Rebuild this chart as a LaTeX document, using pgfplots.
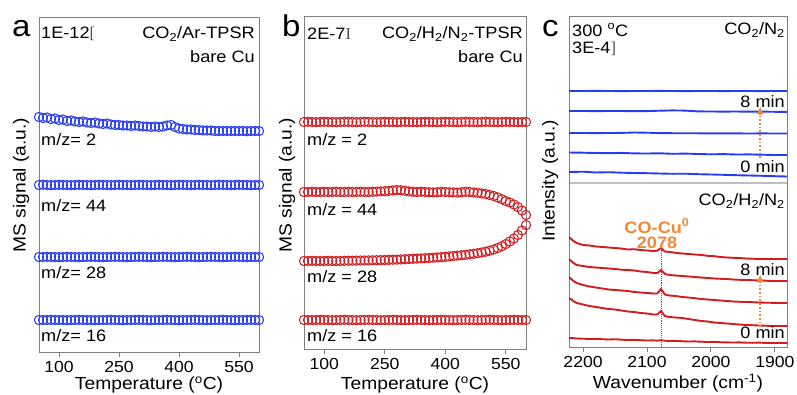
\documentclass[border=0pt]{standalone}
\usepackage{fontspec}
\setmainfont{Liberation Sans}[FakeStretch=1.1]
\newfontfamily\seriff{Liberation Serif}
\usepackage{pgfplots}
\pgfplotsset{compat=1.18}
\usepackage{pgfplotstable}
\usetikzlibrary{arrows.meta}
\definecolor{mblue}{RGB}{40,60,240}
\definecolor{mred}{RGB}{210,28,32}
\definecolor{morange}{RGB}{240,136,56}
\definecolor{axgray}{RGB}{128,128,128}

\pgfplotstableread{
T a2 a44 a28 a16
50 235 167 95 32
60 234 167.3 95 32
70 234.5 167 95.2 32
80 233 166.8 95 32.2
90 233.5 167 95 32
100 232 167.2 94.8 32
110 232.5 167 95 32
120 231 167 95.2 31.8
130 231.5 166.8 95 32
140 230.5 167 95 32
150 230 167.2 94.8 32.2
160 230.5 167 95 32
170 229.5 167 95 32
180 229 166.8 95.2 32
190 229.5 167 95 31.8
200 228.5 167.2 95 32
210 228 167 94.8 32
220 228.5 167 95 32
230 227.5 166.8 95 32.2
240 227 167 95.2 32
250 227 167.2 95 32
260 226.5 167 95 31.8
270 226.5 167 94.8 32
280 226 166.8 95 32
290 226.5 167 95 32
300 226 167.2 95.2 32.2
310 225.5 167 95 32
320 225.5 167 95 32
330 225 166.8 94.8 31.8
340 225.5 167 95 32
350 225 167.2 95 32
360 225.5 167 95.2 32
370 226.5 167 95 32.2
380 227 166.8 95 32
390 225 167 94.8 32
400 223.5 167.2 95 31.8
410 223 167 95 32
420 222.5 167 95.2 32
430 222.5 166.8 95 32
440 222 167 95 32.2
450 222 167.2 94.8 32
460 221.5 167 95 32
470 221.5 167 95 31.8
480 221.5 166.8 95.2 32
490 221 167 95 32
500 221 167.2 95 32
510 221 167 94.8 32.2
520 221 167 95 32
530 221 166.8 95 32
540 221 167 95.2 31.8
550 221 167.2 95 32
560 221 167 95 32
570 220.8 167 94.8 32
580 221 166.8 95 32.2
590 221 167 95 32
600 221 167 95 32
}\tabA

\pgfplotstableread{
T b2 b44 b28 b16
50 227 157 88 29
60 227.2 157 88 29
70 227 157.3 88.2 29
80 226.8 157 88 29
90 227 157 88 29.2
100 227.2 157.2 88 29
110 227 157 88.2 29
120 227 157 88 28.8
130 226.8 157.3 88 29
140 227 157 88 29
150 227.2 157 88.2 29.2
160 227 157.2 88.3 29
170 227 157 88.3 29
180 226.8 157 88.4 28.8
190 227 157.3 88.5 29
200 227.2 157 88.5 29
210 227 157 88.6 29.2
220 227 157.2 88.7 29
230 226.8 157.4 88.8 29
240 227 157.6 88.9 28.8
250 227.2 157.8 89 29
260 227 158.2 89.1 29
270 227 158.6 89.3 29.2
280 226.8 159 89.4 29
290 227 158.8 89.6 29
300 227.2 158.2 89.8 28.8
310 227 157.6 90 29
320 227 157.2 90.2 29
330 226.8 157 90.4 29.2
340 227 157.3 90.6 29
350 227.2 157 90.8 29
360 227 156.8 91 28.8
370 227 156.6 91.3 29
380 226.8 156.8 91.6 29
390 227 157.2 91.9 29.2
400 227.2 157 92.2 29
410 227 156.8 92.6 29
420 227 156.6 93 28.8
430 226.8 156.4 93.4 29
440 227 156.8 93.8 29
450 227.2 157.2 94.2 29.2
460 227 157 94.7 29
470 227 156.6 95.2 29
480 226.8 156.2 95.8 28.8
490 227 155.6 96.5 29
500 227.2 155 97.3 29
510 227 154 98.3 29.2
520 227 153 99.5 29
530 226.8 151.5 101 29
540 227 149.8 102.8 28.8
550 227.2 148 105 29
560 227 146.5 107.5 29
570 227 144.5 110.5 29.2
580 226.8 142 114 29
590 227 138.5 118.5 29
600 227 134 124 29
}\tabB

\pgfplotstableread{
W t1 t2 t3 t4 t5
2222 92 72 50 30.5 11
2200 92 72 50 30.3 11.3
2180 92.1 71.9 49.9 30 10.5
2160 92 72 50 29.8 10.8
2140 91.9 72 50.1 30.1 10.3
2120 92 71.8 50.5 29.6 10
2100 92 71.9 50.3 29.5 9.8
2080 92.1 72.3 49.9 29.7 9.5
2060 92 72.6 49.8 29.2 9.2
2040 91.9 72.4 49.8 29.4 9.3
2020 92 71.6 49.7 29 8.8
2000 92 71.5 49.6 28.7 8.5
1980 91.9 71.4 49.7 28.9 8.2
1960 92 71.5 49.6 28.5 7.8
1940 92 71.3 49.5 28.6 7.5
1920 91.9 71.4 49.6 28.3 7.2
1900 92 71.2 49.5 28 6.8
1881 92 71.2 49.5 28 6.5
}\tabCt

\pgfplotstableread{
W r1 r2 r3 r4 r5
2222 110 88 70 49 9
2215 106 84 66 46 8.8
2210 104 82 64 44 8.5
2200 102 81 62 42.5 8.3
2190 101.5 80 60.5 41 8
2180 100.5 79.5 59.5 40 8.2
2170 100 79 58.5 39 7.8
2160 99.5 78.5 57.5 38 7.5
2150 99 78 57 37.5 7.8
2140 98.5 77.3 56.5 36.5 7.3
2130 97.5 77 56 35.5 7
2120 97.8 76.5 55 35 7.2
2110 97 75.5 54.5 34 6.8
2100 96.5 75 54 33.5 6.5
2090 96 74 53.5 32.5 6.6
2084 96.3 73.8 53.5 32.5 6.4
2078 99 77 58 36 6.8
2072 95.5 73 52.5 31 6.3
2065 95 72 51.5 30 6
2055 94.2 71.5 51 29.5 6.2
2045 93.5 71 50 29 5.8
2035 93 70.5 49.5 28 5.5
2025 92.5 70 48.8 27 5.6
2015 92 69.5 48 26 5.3
2005 91.2 69 47.5 25.5 5
1995 90.8 68.5 47 24.5 5.2
1985 90 68.2 46.5 24 4.8
1975 89.5 68 46 23.5 4.6
1965 89.2 67.5 45.5 23 4.5
1955 89 67.2 45.2 22.5 4.6
1945 88.5 67 45 22 4.3
1935 88.3 66.8 44.8 21.8 4.2
1925 88 66.5 44.5 21.5 4.4
1915 88.2 66.3 44.3 21.3 4.1
1905 87.8 66 44.2 21 4
1895 88 66 44 21 4
1881 88 66 44 21 4
}\tabCb

\pgfplotsset{panel/.style={
  scale only axis,
  axis line style={draw=axgray, line width=0.9pt},
  ytick=\empty,
  xtick pos=bottom,
  tick align=outside,
  major tick length=5pt,
  tick style={axgray, line width=0.9pt},
  tick label style={font=\fontsize{16}{18}\selectfont, black},
  xticklabel style={yshift=-1pt},
  /pgf/number format/assume math mode=true,
  /pgf/number format/1000 sep={},
  clip=true}}

\newcommand{\fs}{\fontsize{16.5}{19}\selectfont}
\newcommand{\fl}{\fontsize{17.5}{20}\selectfont}

\begin{document}
\begin{tikzpicture}
\useasboundingbox (0pt,0pt) rectangle (797pt,-394pt);

% ---------- panel a ----------
\begin{axis}[panel, at={(39pt,-17pt)}, anchor=north west, width=220pt, height=335pt,
  xmin=50, xmax=600, ymin=0, ymax=335, xtick={100,250,400,550}]
\addplot[only marks, mark=o, mark size=4.6pt, mblue, line width=1.05pt] table[x=T,y=a2]{\tabA};
\addplot[only marks, mark=o, mark size=4.6pt, mblue, line width=1.05pt] table[x=T,y=a44]{\tabA};
\addplot[only marks, mark=o, mark size=4.6pt, mblue, line width=1.05pt] table[x=T,y=a28]{\tabA};
\addplot[only marks, mark=o, mark size=4.6pt, mblue, line width=1.05pt] table[x=T,y=a16]{\tabA};
\end{axis}

% ---------- panel b ----------
\begin{axis}[panel, at={(304pt,-16pt)}, anchor=north west, width=222pt, height=333pt,
  xmin=50, xmax=600, ymin=0, ymax=333, xtick={100,250,400,550}]
\addplot[only marks, mark=o, mark size=4.6pt, mred, line width=1.05pt] table[x=T,y=b2]{\tabB};
\addplot[only marks, mark=o, mark size=4.6pt, mred, line width=1.05pt] table[x=T,y=b44]{\tabB};
\addplot[only marks, mark=o, mark size=4.6pt, mred, line width=1.05pt] table[x=T,y=b28]{\tabB};
\addplot[only marks, mark=o, mark size=4.6pt, mred, line width=1.05pt] table[x=T,y=b16]{\tabB};
\end{axis}

% ---------- panel c top ----------
\begin{axis}[panel, at={(569pt,-16pt)}, anchor=north west, width=218pt, height=167pt,
  x dir=reverse, xmin=1881, xmax=2222, ymin=0, ymax=167, xtick=\empty]
\addplot[mblue, line width=1.9pt] table[x=W,y=t1]{\tabCt};
\addplot[mblue, line width=1.9pt] table[x=W,y=t2]{\tabCt};
\addplot[mblue, line width=1.9pt] table[x=W,y=t3]{\tabCt};
\addplot[mblue, line width=1.9pt] table[x=W,y=t4]{\tabCt};
\addplot[mblue, line width=1.9pt] table[x=W,y=t5]{\tabCt};
\draw[morange, line width=1.7pt, dotted, -{Triangle[length=7pt,width=6pt]}] (axis cs:1923,25) -- (axis cs:1923,76);
\end{axis}

% ---------- panel c bottom ----------
\begin{axis}[panel, at={(569pt,-183pt)}, anchor=north west, width=218pt, height=164pt,
  x dir=reverse, xmin=1881, xmax=2222, ymin=0, ymax=164, xtick={2200,2100,2000,1900}]
\draw[black!65, line width=0.9pt, densely dotted] (axis cs:2078,0) -- (axis cs:2078,97);
\addplot[mred, line width=1.9pt] table[x=W,y=r1]{\tabCb};
\addplot[mred, line width=1.9pt] table[x=W,y=r2]{\tabCb};
\addplot[mred, line width=1.9pt] table[x=W,y=r3]{\tabCb};
\addplot[mred, line width=1.9pt] table[x=W,y=r4]{\tabCb};
\addplot[mred, line width=1.9pt] table[x=W,y=r5]{\tabCb};
\draw[morange, line width=1.7pt, dotted, -{Triangle[length=7pt,width=6pt]}] (axis cs:1923,20) -- (axis cs:1923,72);
\end{axis}
\draw[black!25, line width=1.6pt] (569.5pt,-183pt) -- (786.5pt,-183pt);

% ---------- texts ----------
\begin{scope}[x=1pt, y=1pt, every node/.style={inner sep=0pt, text=black}]
% panel a
\node[anchor=base west, font=\fontsize{30}{32}\selectfont] at (12,-36) {a};
\node[anchor=west, font=\fs] at (41,-34) {1E-12{\seriff\color{black!70}[}};
\node[anchor=east, font=\fs] at (255,-34) {CO\textsubscript{2}/Ar-TPSR};
\node[anchor=east, font=\fs] at (255,-57) {bare Cu};
\node[anchor=west, font=\fs] at (41,-140) {m/z= 2};
\node[anchor=west, font=\fs] at (41,-206) {m/z= 44};
\node[anchor=west, font=\fs] at (41,-273) {m/z= 28};
\node[anchor=west, font=\fs] at (41,-336) {m/z= 16};
\node[rotate=90, font=\fl] at (21,-185) {MS signal (a.u.)};
\node[font=\fl] at (149,-385) {Temperature (\textsuperscript{o}C)};
% panel b
\node[anchor=base west, font=\fontsize{30}{32}\selectfont] at (282,-36) {b};
\node[anchor=west, font=\fs] at (307,-34) {2E-7{\seriff\color{black!70}I}};
\node[anchor=east, font=\fs] at (523,-34) {CO\textsubscript{2}/H\textsubscript{2}/N\textsubscript{2}-TPSR};
\node[anchor=east, font=\fs] at (523,-57) {bare Cu};
\node[anchor=west, font=\fs] at (307,-140) {m/z = 2};
\node[anchor=west, font=\fs] at (307,-210) {m/z = 44};
\node[anchor=west, font=\fs] at (307,-277) {m/z = 28};
\node[anchor=west, font=\fs] at (307,-336) {m/z = 16};
\node[rotate=90, font=\fl] at (287,-185) {MS signal (a.u.)};
\node[font=\fl] at (415,-385) {Temperature (\textsuperscript{o}C)};
% panel c
\node[anchor=base west, font=\fontsize{30}{32}\selectfont] at (542,-36) {c};
\node[anchor=base west, font=\fs] at (572,-36) {300 \textsuperscript{o}C};
\node[anchor=base west, font=\fs] at (572,-53) {3E-4{\seriff\color{black!70}]}};
\node[anchor=east, font=\fs] at (785,-30) {CO\textsubscript{2}/N\textsubscript{2}};
\node[anchor=east, font=\fs] at (785,-102) {8 min};
\node[anchor=east, font=\fs] at (785,-167) {0 min};
\node[anchor=east, font=\fs] at (785,-201) {CO\textsubscript{2}/H\textsubscript{2}/N\textsubscript{2}};
\node[anchor=base, font=\fs\bfseries, text=morange] at (657,-233) {CO-Cu\textsuperscript{0}};
\node[anchor=base, font=\fs\bfseries, text=morange] at (657,-248) {2078};
\node[anchor=east, font=\fs] at (785,-270) {8 min};
\node[anchor=east, font=\fs] at (785,-333) {0 min};
\node[rotate=90, font=\fl] at (550,-181) {Intensity (a.u.)};
\node[font=\fl] at (678,-383) {Wavenumber (cm\textsuperscript{-1})};
\end{scope}
\end{tikzpicture}
\end{document}
